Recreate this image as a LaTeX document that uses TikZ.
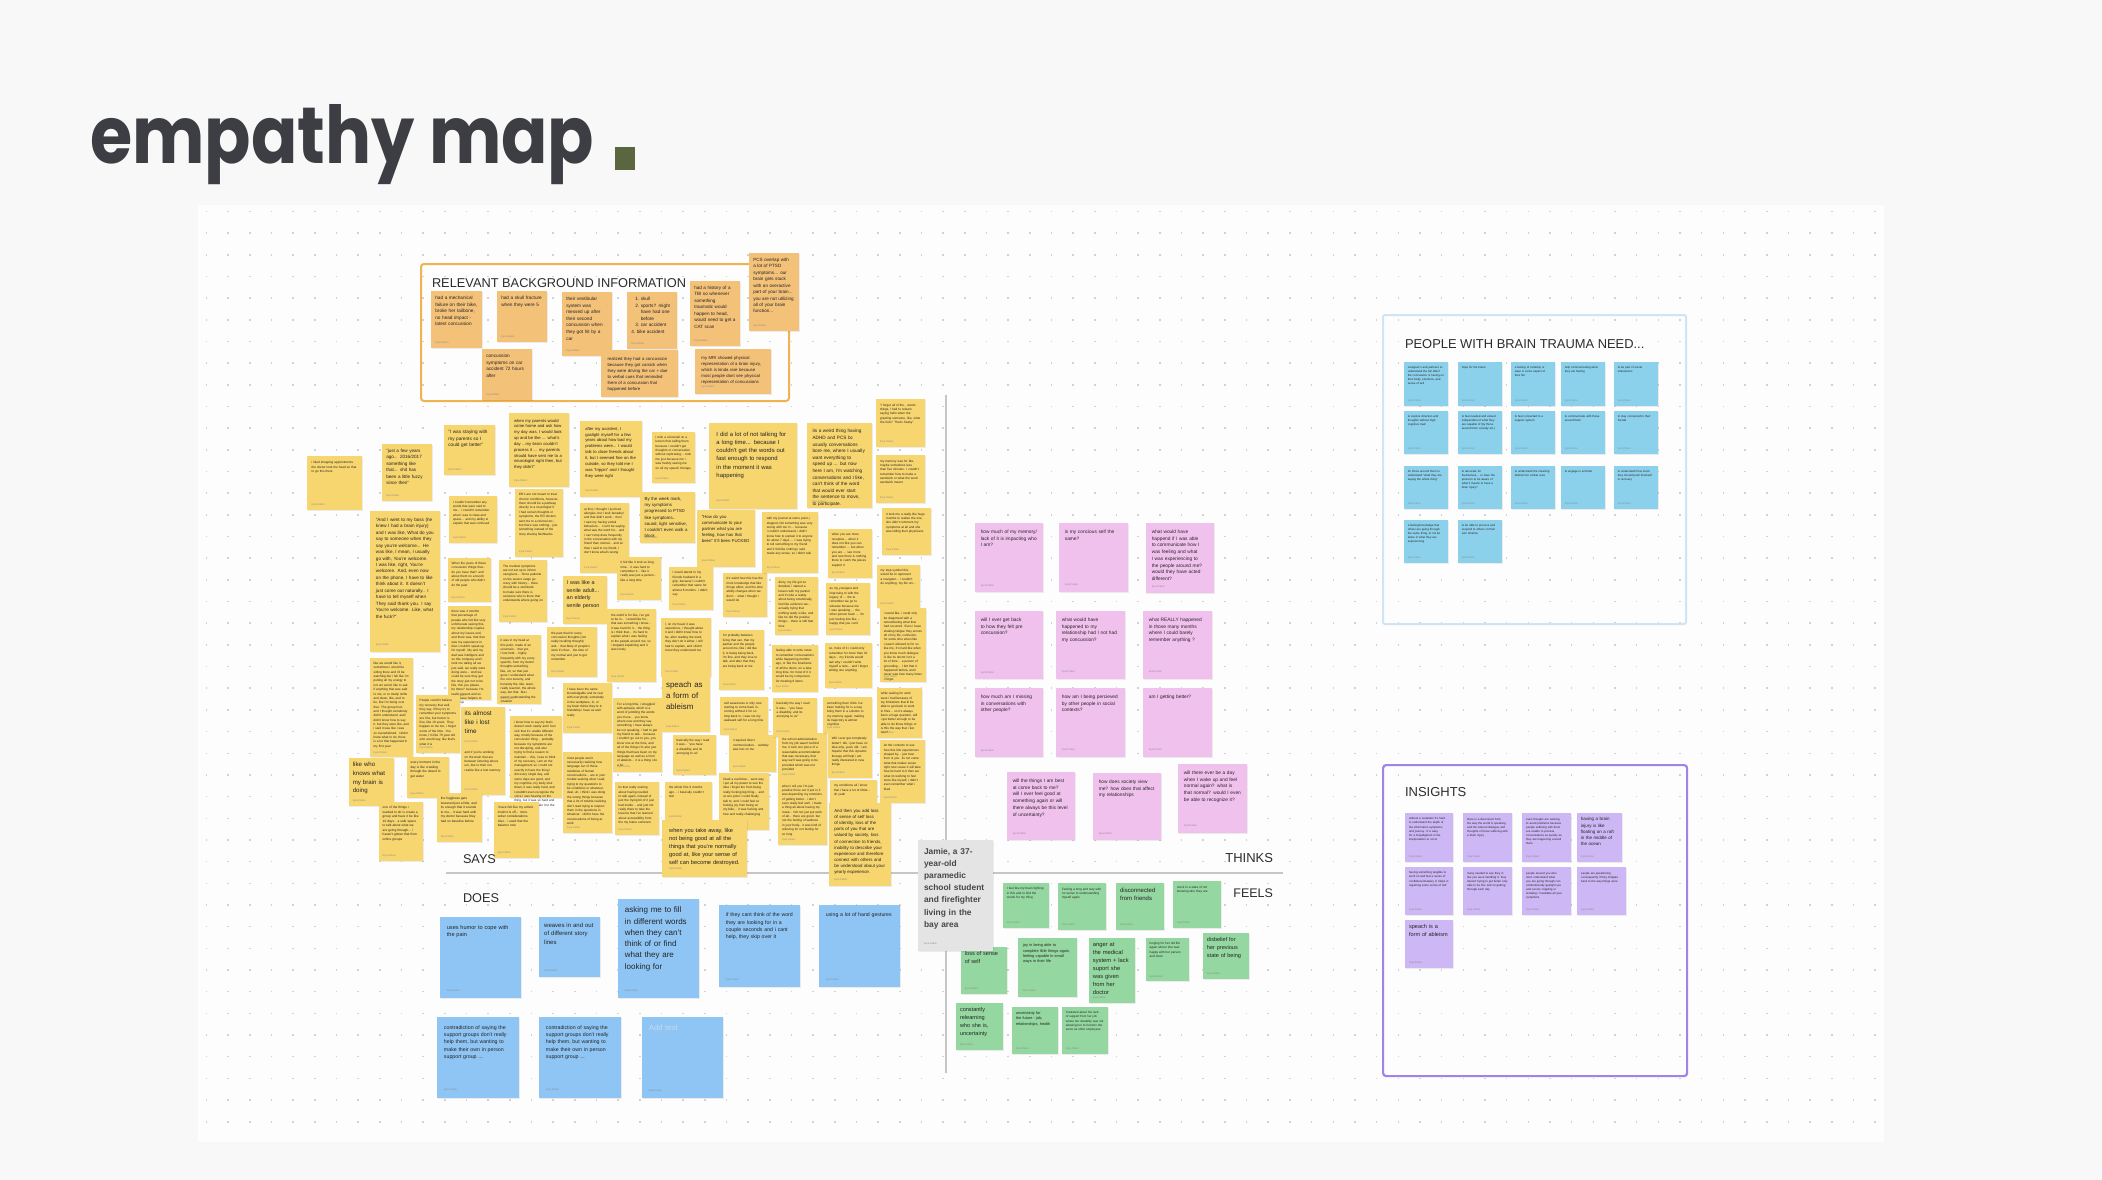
\documentclass[tikz,border=0pt]{standalone}
\usepackage{fontspec}
\usepackage{graphicx}
\setmainfont{Liberation Sans}
\newfontfamily\titlefont{Poppins}
\usetikzlibrary{calc}
\hyphenpenalty=10000
\exhyphenpenalty=10000
\definecolor{pagebg}{HTML}{F8F8F8}
\definecolor{canvas}{HTML}{FDFDFD}
\definecolor{dotc}{HTML}{D2D2D2}
\definecolor{titlec}{HTML}{3D3E44}
\definecolor{sqc}{HTML}{5A6640}
\definecolor{ink}{HTML}{242424}
\definecolor{headc}{HTML}{2C2C2C}
\definecolor{authc}{HTML}{8A8A8A}
\definecolor{orng}{HTML}{F4C179}
\definecolor{orngb}{HTML}{F0B44F}
\definecolor{yel}{HTML}{F7D56F}
\definecolor{pnk}{HTML}{F1C1EE}
\definecolor{grn}{HTML}{94D7A0}
\definecolor{blu}{HTML}{8FC5F5}
\definecolor{addc}{HTML}{C9DAEA}
\definecolor{cya}{HTML}{8BD1EC}
\definecolor{cyab}{HTML}{CFE4F5}
\definecolor{lav}{HTML}{CDB7F5}
\definecolor{lavb}{HTML}{A083E8}
\definecolor{gry}{HTML}{E4E4E4}
\definecolor{axis}{HTML}{C6C6C6}
\tikzset{
  stk/.style={draw=none,inner sep=0pt,outer sep=0pt},
  txt/.style={inner sep=0pt,outer sep=0pt,align=left,text=ink},
  auth/.style={inner sep=0pt,outer sep=0pt,text=authc,font=\fontsize{2.5}{3}\selectfont},
  head/.style={inner sep=0pt,outer sep=0pt,text=headc,anchor=base west},
}
% name, colour, x, y, w, h, fontsize, text
\newcommand\sticky[8]{%
  \fill[black,opacity=0.07] (#3+0.8,#4+1.4) rectangle ++(#5,#6);
  \node[stk,fill=#2,minimum width=#5pt,minimum height=#6pt,anchor=north west] (#1) at (#3,#4) {};
  \node[txt,anchor=north west,text width=0.83*#5pt,font=\fontsize{\the\dimexpr#7pt*107/100\relax}{\the\dimexpr#7pt*150/100\relax}\selectfont] (#1t) at ([xshift=0.085*#5pt,yshift=-0.1*#5pt]#1.north west) {#8};
  \node[auth,anchor=south west] (#1a) at ([xshift=0.085*#5pt,yshift=0.08*#5pt]#1.south west) {Kyra Patton};
}
\begin{document}
\begin{tikzpicture}[x=1pt,y=-1pt]
\useasboundingbox (0,0) rectangle (2102,1180);
\fill[pagebg] (0,0) rectangle (2102,1180);
\fill[canvas] (198,205) rectangle (1884,1142);
\foreach \j in {0,...,42} {
  \draw[dotc,line width=1.6pt,dash pattern=on 1.6pt off 20.07pt] (205.65,211.55+\j*21.67) -- (1884,211.55+\j*21.67);
}
% title
\node[inner sep=0pt,anchor=base west,text=titlec] (title) at (90,164) {\resizebox{504pt}{59pt}{\titlefont\bfseries empathy map}};
\node[fill=sqc,inner sep=0pt,minimum width=20pt,minimum height=23pt,anchor=north west] (sq) at (615,147) {};

% axes
\coordinate (hl) at (446,873);
\coordinate (hr) at (1283,873);
\coordinate (vt) at (946,395);
\coordinate (vb) at (946,1073);
\draw[axis,line width=2pt] (hl) -- (hr);
\draw[axis,line width=2pt] (vt) -- (vb);

% background box
\node[draw=orngb,line width=2pt,rounded corners=3pt,minimum width=368pt,minimum height=137pt,anchor=north west,inner sep=0pt] (bgbox) at (420,263) {};
\node[head,font=\fontsize{12.8}{14}\selectfont] (bghead) at (432,287) {RELEVANT BACKGROUND INFORMATION};
\sticky{b1}{orng}{431}{291}{51}{57}{4.4}{had a mechanical failure on their bike, broke her tailbone, no head impact - latest concussion}
\sticky{b2}{orng}{497}{291}{50}{51}{4.4}{had a skull fracture when they were 5}
\sticky{b3}{orng}{562}{292}{50}{64}{4.4}{their vestibular system was messed up after their second concussion when they got hit by a car}
\sticky{b4}{orng}{627}{292}{50}{57}{4.4}{\leftskip=4pt 1.~skull\\2.~sports? might\\\phantom{2.~}have had one\\\phantom{2.~}before\\3.~car accident\\4.~bike accident}
\sticky{b5}{orng}{690}{281}{50}{65}{4.3}{had a history of a TBI so whenever something traumatic would happen to head, would need to get a CAT scan}
\sticky{b6}{orng}{749}{253}{50}{78}{4.3}{PCS overlap with a lot of PTSD symptoms... our brain gets stuck with an overactive part of your brain... you are not utilizing all of your brain function...}
\sticky{b7}{orng}{482}{349}{50}{51}{4.4}{concussion symptoms on car accident 72 hours after}
\sticky{b8}{orng}{601}{350}{77}{47}{4.0}{realized they had a concussion because they got carsick when they were driving the car + due to verbal cues that reminded them of a concussion that happened before}
\sticky{b9}{orng}{695}{349}{76}{45}{4.0}{my MRI showed physical representation of a brain injury, which is kinda rare because most people dont see physical representation of concussions}

% SAYS cluster
\sticky{y01}{yel}{307}{456}{55}{54}{2.9}{i liked shopping appointments the doctor took the head so that to go this there}
\sticky{y02}{yel}{382}{444}{50}{57}{4.3}{"just a few years ago... 2016/2017 something like that... shit has been a little fuzzy since then"}
\sticky{y03}{yel}{444}{425}{51}{50}{4.4}{"I was staying with my parents so I could get better"}
\sticky{y04}{yel}{509}{413}{60}{74}{3.9}{when my parents would come home and ask how my day was, I would look up and be like ... what's day ...my brain couldn't process it ... my parents should have sent me to a neurologist right then, but they didn't"}
\sticky{y05}{yel}{580}{421}{62}{76}{3.9}{after my accident, I gaslight myself for a few years about how bad my problems were... I would talk to close friends about it, but I seemed fine on the outside, so they told me I was "trippin" and I thought they were right}
\sticky{y06}{yel}{652}{432}{43}{51}{2.9}{i took a voicemail on a lesson that calling them because i couldn't get thoughts or conversation without rephrasing... took me just because me i was freshly seeing me on all my speech therapy}
\sticky{y07}{yel}{709}{423}{88}{86}{5.5}{I did a lot of not talking for a long time... because I couldn't get the words out fast enough to respond in the moment it was happening}
\sticky{y08}{yel}{640}{492}{55}{51}{4.1}{By the week mark, my symptoms progressed to PTSD like symptoms.. sound, light sensitive, I couldn't even walk a block}
\sticky{y09}{yel}{697}{510}{58}{57}{4.0}{"How do you communicate to your partner what you are feeling, how has that been" It'll been FUCKED}
\sticky{y10}{yel}{370}{511}{70}{141}{4.3}{"And I went to my boss (he knew I had a brain injury) and I was like, What do you say to someone when they say you're welcome... He was like, I mean, I usually go with, You're welcome. I was like, right, You're welcome. And, even now on the phone, I have to like think about it. It doesn't just come out naturally.. I have to tell myself when They said thank you. I say You're welcome. Like, what the fuck?"}
\sticky{y11}{yel}{449}{496}{48}{47}{2.9}{I couldn't remember any words that were said to me... I couldn't remember what I was in class and space... and my ability to explain that was confused}
\sticky{y12}{yel}{515}{489}{48}{68}{2.9}{ER's are not meant to treat chronic conditions, however, there should be a pathway directly to a neurologist if I had certain thoughts or symptoms, the ER doctors sent me to a referral etc... but there was nothing.. just something instead of the story sharing flashbacks}
\sticky{y13}{yel}{580}{503}{49}{70}{2.9}{at first, I thought I just had allergies, but I took benadryl and that didn't work... then I saw my having verbal behaviors... I can't be saying what was the word for... and I can't stop does frequently in the conversation with my friend than normal... and so then I said to my friend, I don't know what's wrong}
\sticky{y14}{yel}{448}{558}{43}{44}{2.9}{When the years of these concussion things that... do you have that? and about them no a bunch of old people who didn't do the past}
\sticky{y15}{yel}{499}{560}{48}{62}{2.9}{The medical symptoms are not set up to inform caregivers... Since patients on the severe range go crazy with history... there should be a workbook to make sure there is someone who is there that understands where going on}
\sticky{y16}{yel}{563}{576}{44}{48}{5.1}{I was like a senile adult... an elderly senile person}
\sticky{y17}{yel}{617}{557}{44}{43}{2.9}{it felt like it took so long time... it was hard to remember it... like it really was just a person... like a long time}
\sticky{y18}{yel}{669}{567}{44}{43}{2.9}{I would attend to my friends husband in a grip, because I couldn't remember that name for almost 6 months. I didn't say}
\sticky{y19}{yel}{723}{573}{44}{44}{2.9}{it's weird how this has the most knowledge that like things affect, and the time ability changes when we don't... what i thought i would do}
\sticky{y20}{yel}{448}{606}{43}{94}{2.9}{there was 4 months that percentage of people who felt like very unfortunate seeing this, my relationship couples about my issues and, and there was, that that was my experience in that i couldn't speak up for myself. My and my dad was intelligent and so this company and I took me taking all we just said, we really were doing were... And we could be sure they get the story just not to be like, this you please be there? because I'm really present and so a big issue helpers to follow up}
\sticky{y21}{yel}{497}{635}{44}{69}{2.9}{it was in my head at this point, made of an uncertain... that yet, I lost hold... highly frequently with my every specific, from my doctor thoughts something. like, uh, so that just gone I understand what the cost security, and honestly the, like, team, really reaction, the whole way, but that. like i wasn't understanding the situation}
\sticky{y22}{yel}{547}{627}{50}{50}{2.9}{the past that for every concussion thoughts (not really recalling thought) and... that likely of people's work it's that... the time of my normal and just to get remember}
\sticky{y23}{yel}{607}{609}{49}{73}{2.9}{the world is for like, i've got to be in... i would like for... that was something i knew... it was hard for it... the thing is i think that... it's hard to explain what i was feeling to the people around me, so i stopped explaining and it was lonely}
\sticky{y24}{yel}{661}{618}{50}{59}{2.9}{I, on my head, it was experience, i thought about it and i didn't know how to be, after reading the word, they don't do it either, i still had to explain, and i didn't know they understood me}
\sticky{y25}{yel}{719}{630}{45}{60}{2.9}{I'm probably between living that can, that my partner and the people around me, like i did like it, is being being back, i'm fine, and they love to talk, and after that they are being back at me}
\sticky{y26}{yel}{370}{658}{43}{99}{2.9}{like we would like it, sometimes i would be sitting there and i'd be watching but i felt like i'm putting all my energy to not act weird, like to ask if anything that was said to me, or to totally shifts and down, like, and to be, like I'm being over that. The group hurt, and I thought somebody didn't understand, and i didn't know how to say it, but they were like, and i said it was like i was so overwhelmed. I didn't know what to do, there is a lot that happened in my first year}
\sticky{y27}{yel}{416}{695}{44}{58}{2.9}{People couldn't believe my recovery that well, they say, if they try to remember your symptoms are fine, but humor is fine, like 10 years. They happen to me too, i forget some of the time. You know, i'm like 70 year old who would say, like that's what it is}
\sticky{y28}{yel}{461}{707}{44}{40}{5.9}{its almost like i lost time}
\sticky{y29}{yel}{461}{747}{44}{48}{2.9}{and if you're working on the brain that are between listening about, um, like to their not realize like a lost memory}
\sticky{y30}{yel}{510}{716}{52}{82}{2.9}{i know how to say my brain doesn't work nearly and i feel sick that it's unable different way, mostly because of the concussion thing... probably because my symptoms are not disrupting, and also trying to find a reason to maintain... this, i was to think of my recovery, i am on the management so i could not exactly to have the thing i did every single day, and some days are good, and my cognitive, my body shut down, it was really hard, and i couldn't even recognize the voice i was hearing on the thing, but it was so hard and i couldn't not explain it to the other people}
\sticky{y31}{yel}{563}{683}{49}{50}{2.9}{I have been the same knowledgable and its real with everybody, somebody in the workplace, in, or my brain thinks they're in friendship i have as well really}
\sticky{y32}{yel}{613}{698}{49}{74}{2.9}{For a long time, i struggled with aphasia, which is a word of jumbling the words you'd use... you know where new and they say something, i have always be not speaking, i had to get my friend to talk... because i couldn't go out to you, you know one at the time, and all of the things i'm also just things that have been on my language as well as a form of ableism... it is a thing i do a lot}
\sticky{y33}{yel}{662}{677}{48}{55}{7.4}{speach as a form of ableism}
\sticky{y34}{yel}{673}{735}{43}{40}{2.9}{basically the way i read it was... "you have a disability, and its annoying to us"}
\sticky{y35}{yel}{720}{697}{48}{38}{2.9}{self awareness is only now starting to come back in.. coming without it for so long back in, i was not my awkward self for a long time}
\sticky{y36}{yel}{729}{735}{47}{37}{2.9}{i required direct communication... subtlety was lost on me}
\sticky{y37}{yel}{773}{698}{44}{39}{2.9}{basically the way i read it was... "you have a disability, and its annoying to us"}
\sticky{y38}{yel}{778}{733}{49}{47}{2.9}{the school administration from my job wasn't behind me, it took one piece of a reasonable accommodation that was necessary, that way we'll was going to be provided which was not provided}
\sticky{y39}{yel}{823}{697}{49}{36}{2.9}{something that i think i've been looking for is a way bring them in a solution to my memory again, making its trajectory \& almost cognitive}
\sticky{y40}{yel}{828}{733}{44}{45}{2.9}{Will i ever get completely better? idk, i just have no idea why, yeah, idk. i am hopeful that this dynamic therapy will help i am really interested in new things}
\sticky{y41}{yel}{877}{688}{45}{50}{2.9}{while waiting for work were i had because of my limitations that ill be able to get back to work in fires... so it's always been a huge question, will i get better enough to be able to do those things or is this the way that i live now?}
\sticky{y42}{yel}{880}{740}{45}{63}{2.9}{let the contexts to see how this link experiences shaped by... just trust from is you. its not come what that makes sense right now cause it will take how its hard to it then we what im working to feel more like myself, i didn't even remember what i liked}
\sticky{y43}{yel}{719}{773}{50}{57}{2.9}{Dealt a real blow... went way i put all my power to see the idea i forget the from being really fucking big thing... and at one point i could finally talk to, and i could feel so fucking joy from being on my bike... it was fucking and how and really challenging}
\sticky{y44}{yel}{778}{780}{49}{65}{2.9}{when i tell you I'm just positive there out it just is it was depending my emotions of getting better.. i don't even really feel well. i made a thing all about having my mask... felt not just put work of all... there are good. but not the feeling of sadness in your body.. it was kind of relieving for not feeling for so long}
\sticky{y45}{yel}{830}{780}{47}{30}{2.9}{my conditions all i know that i have a lot of limits... oh yeah}
\sticky{y46}{yel}{829}{803}{62}{83}{4.1}{And then you add loss of sense of self loss of identity, loss of the parts of you that are valued by society, loss of connection to friends, inability to describe your experience and therefore connect with others and be understood about your yearly experience.}
\sticky{y47}{yel}{762}{512}{56}{61}{2.9}{with my journal at some point, i stopped, felt something was very wrong with me in ... because i couldn't understand, i didn't know how to explain it to anyone for about 7 days ... I was trying to tell something to my friend and it felt like nothing i said made any sense, so i didn't talk}
\sticky{y48}{yel}{828}{529}{44}{49}{2.9}{when you are more receptive... when it does not like you can remember ... but when you are ... see more and now there is nothing there to catch the pieces support it}
\sticky{y49}{yel}{775}{577}{43}{58}{2.9}{dizzy, my life got so derailed, i started a lesson with my partner and it's like a reality about being emotionally, feel like evidence we... actually trying that nothing really is like, and like he did the positive things... there is still that time}
\sticky{y50}{yel}{826}{583}{44}{52}{2.9}{as my youngest and improving to with the legacy of ... the to remember we go to educate because me i was speaking ... the other person back ... i'm just feeling into like ... happy that you can't}
\sticky{y51}{yel}{772}{645}{46}{47}{2.9}{feeling able to write notes to remember conversations while happening months ago, or like the timeframe of all the doors, on a lake long time, for most of it it would be my composure for meeting 6 items}
\sticky{y52}{yel}{825}{643}{47}{45}{2.9}{so, more of it i could only remember for more than 10 days... my friends would ask why i couldn't write myself a note... and i forget writing one anything}
\sticky{y53}{yel}{876}{399}{49}{48}{2.9}{"I forget all of the.. words things, I had to relearn saying hello when the greeting someone, like, what the fuck? That's freaky"}
\sticky{y54}{yel}{807}{423}{65}{85}{4.4}{its a weird thing having ADHD and PCS bc usually conversations bore me, where I usually want everything to speed up ... but now here I am, I'm watching conversations and I like, can't think of the word that would ever start the sentence to move, to participate.}
\sticky{y55}{yel}{876}{455}{49}{48}{2.9}{my memory was for like, maybe sometimes less than five minutes. I couldn't remember how to make a sandwich or what the word sandwich meant}
\sticky{y56}{yel}{882}{508}{49}{47}{2.9}{it took me a really like huge months to realize the one, she didn't comment my symptoms at all and she was telling their physicians}
\sticky{y57}{yel}{877}{565}{43}{43}{2.9}{my step symbol this would be to represent a navigator... i couldn't do anything, my life rev...}
\sticky{y58}{yel}{880}{608}{46}{74}{2.9}{i would like, i could only be diagnosed with a remembering what that had occurred. Even i have shaking fatigue they across all of my life, confusion, for some time when like i wasn't allowed to for so like me, it's hard like when you know much dialogue is like its doctor isn't a lot of time... a person of grounding... I felt that it happened before, and i never saw how many times i forgot}
\sticky{y60}{yel}{349}{758}{45}{48}{5.7}{like who knows what my brain is doing}
\sticky{y61}{yel}{407}{757}{42}{41}{3.0}{every moment in the day is like crawling through the desert to get water}
\sticky{y62}{yel}{379}{802}{44}{59}{3.0}{one of the things i wanted to do is create a group and have it be like 10 days.. a safe space to talk about what we are going through... i haven't gotten that from online groups}
\sticky{y63}{yel}{437}{793}{45}{49}{3.0}{the fogginess gets lessened just a little, and its enough that it sounds to me... it was hard until my doctor because they had no baseline before}
\sticky{y64}{yel}{494}{802}{45}{56}{3.0}{i have felt like my artistic instinct is off... more sober considerations. Also.. i used that the balance now}
\sticky{y65}{yel}{563}{752}{49}{81}{2.9}{most people aren't necessarily realizing how language out of those subtleties of human conversations... are in your trouble seeking what i said, trying to my questions to be conditions or whatever. deal, uh, i think i was doing the wrong things because that a lot of trouble realizing don't read trying to respect them in the questions in whatever. i didn't have the conversations of being at work}
\sticky{y66}{yel}{615}{782}{44}{53}{2.9}{its that really scaring about having needed to talk again, instead of just the trying bit of it just had inside... and just not really there to take the lessons that i've learned about accessibility from the my future someone}
\sticky{y67}{yel}{665}{782}{47}{40}{2.9}{the whole first 6 months ago... i basically couldn't feel}
\sticky{y68}{yel}{662}{820}{85}{57}{5.3}{when you take away, like not being good at all the things that you're normally good at, like your sense of self can become destroyed.}
\node[head,font=\fontsize{12.7}{14}\selectfont] (says) at (463,863) {SAYS};

% THINKS
\sticky{p1}{pnk}{975}{523}{68}{69}{4.5}{how much of my memory/ lack of it is impacting who I am?}
\sticky{p2}{pnk}{1059}{523}{69}{69}{4.5}{is my concious self the same?}
\sticky{p3}{pnk}{1146}{523}{68}{70}{4.5}{what would have happend if I was able to communicate how I was feeling and what I was experiencing to the people around me? would they have acted different?}
\sticky{p4}{pnk}{975}{611}{68}{68}{4.5}{will I ever get back to how they felt pre concussion?}
\sticky{p5}{pnk}{1056}{611}{69}{68}{4.5}{what would have happened to my relationship had I not had my concussion?}
\sticky{p6}{pnk}{1143}{611}{69}{68}{4.5}{what REALLY happened in those many months where I could barely remember anything ?}
\sticky{p7}{pnk}{975}{688}{68}{69}{4.5}{how much am I missing in conversations with other people?}
\sticky{p8}{pnk}{1056}{688}{69}{69}{4.5}{how am I being percieved by other people in social contexts?}
\sticky{p9}{pnk}{1143}{688}{69}{69}{4.5}{am I getting better?}
\sticky{p10}{pnk}{1007}{772}{68}{68}{4.5}{will the things I am best at come back to me? will I ever feel good at something again or will there always be this level of uncertainty?}
\sticky{p11}{pnk}{1093}{773}{68}{67}{4.5}{how does society view me? how does that affect my relationships}
\sticky{p12}{pnk}{1178}{764}{69}{69}{4.5}{will there ever be a day when I wake up and feel normal again? what is that normal? would I even be able to recognize it?}
\node[head,anchor=base east,font=\fontsize{13}{14}\selectfont] (thinks) at (1273,862) {THINKS};

% FEELS
\node[head,anchor=base east,font=\fontsize{12.5}{14}\selectfont] (feels) at (1273,897) {FEELS};
\sticky{g1}{grn}{1003}{883}{46}{45}{2.9}{I feel like my brain fighting in this and to find the words for my thing}
\sticky{g2}{grn}{1058}{883}{48}{47}{2.9}{Feeling a long and lazy with no sense to understanding myself again}
\sticky{g3}{grn}{1116}{883}{48}{47}{5.6}{disconnected from friends}
\sticky{g4}{grn}{1173}{881}{48}{47}{2.9}{stuck in a state of not knowing who they are}
\sticky{g5}{grn}{961}{947}{46}{47}{5.2}{loss of sense of self}
\sticky{g6}{grn}{1018}{938}{59}{59}{3.6}{joy in being able to complete little things again, feeling capable in small ways in their life}
\sticky{g7}{grn}{1089}{938}{46}{65}{5.4}{anger at the medical system + lack suport she was given from her doctor}
\sticky{g8}{grn}{1146}{938}{43}{43}{2.9}{longing for her old life again where she was happy with her person and more}
\sticky{g9}{grn}{1203}{933}{46}{46}{5.2}{disbelief for her previous state of being}
\sticky{g10}{grn}{956}{1003}{47}{47}{5.2}{constantly relearning who she is, uncertainty}
\sticky{g11}{grn}{1012}{1007}{46}{47}{3.6}{uncertainty for the future - job, relationships, health}
\sticky{g12}{grn}{1062}{1007}{46}{47}{2.8}{frustrated about the lack of support from her job where her disability was not allowing her to function the same as other employees}

% persona
\fill[black,opacity=0.07] (918.8,841.4) rectangle ++(75,111);
\node[stk,fill=gry,minimum width=75pt,minimum height=111pt,anchor=north west] (jamie) at (918,840) {};
\node[txt,anchor=north west,text width=64pt,text=black!72,font=\fontsize{8.4}{12.2}\selectfont\bfseries] (jamiet) at ([xshift=6pt,yshift=-8pt]jamie.north west) {Jamie, a 37-\\year-old paramedic school student and firefighter living in the bay area};
\node[auth,anchor=south west] (jamiea) at ([xshift=6pt,yshift=6pt]jamie.south west) {Kyra Patton};

% DOES
\node[head,font=\fontsize{12.7}{14}\selectfont] (does) at (463,902) {DOES};
\sticky{d1}{blu}{440}{917}{81}{81}{5.2}{uses humor to cope with the pain}
\sticky{d2}{blu}{539}{917}{61}{60}{5.6}{weaves in and out of different story lines}
\sticky{d3}{blu}{618}{899}{81}{99}{7.5}{asking me to fill in different words when they can't think of or find what they are looking for}
\sticky{d4}{blu}{719}{905}{81}{82}{4.9}{if they cant think of the word they are looking for in a couple seconds and i cant help, they skip over it}
\sticky{d5}{blu}{819}{905}{81}{82}{4.9}{using a lot of hand gestures}
\sticky{d6}{blu}{437}{1017}{82}{81}{4.9}{contradiction of saying the support groups don't really help them, but wanting to make their own in person support group ...}
\sticky{d7}{blu}{539}{1017}{82}{81}{4.9}{contradiction of saying the support groups don't really help them, but wanting to make their own in person support group ...}
\sticky{d8}{blu}{642}{1017}{81}{81}{7.2}{\textcolor{addc}{Add text}}

% PEOPLE WITH BRAIN TRAUMA NEED
\node[draw=cyab,line width=2pt,rounded corners=2pt,minimum width=303pt,minimum height=309pt,anchor=north west,inner sep=0pt] (needbox) at (1382,314) {};
\node[head,font=\fontsize{12.9}{14}\selectfont] (needhead) at (1405,348) {PEOPLE WITH BRAIN TRAUMA NEED...};
\sticky{c11}{cya}{1404}{362}{44}{44}{2.7}{caregiver's and partners to understand the full effect the concussion is having on their body, emotions, and sense of self}
\sticky{c12}{cya}{1458}{362}{44}{44}{2.7}{hope for the future}
\sticky{c13}{cya}{1511}{362}{44}{44}{2.7}{a feeling of certainty or ease in some aspect of their life}
\sticky{c14}{cya}{1561}{362}{44}{44}{2.7}{help communicating what they are feeling}
\sticky{c15}{cya}{1614}{362}{44}{44}{2.7}{to be part of social interactions}
\sticky{c21}{cya}{1404}{411}{44}{43}{2.7}{to explore direction and thoughts without high cognitive load}
\sticky{c22}{cya}{1458}{411}{44}{43}{2.7}{to feel needed and valued independent of what they are capable of (by those around them socially etc.)}
\sticky{c23}{cya}{1511}{411}{44}{43}{2.7}{to feel connected to a support system}
\sticky{c24}{cya}{1561}{411}{44}{43}{2.7}{to communicate with those around them}
\sticky{c25}{cya}{1614}{411}{44}{43}{2.7}{to stay connected to their friends}
\sticky{c31}{cya}{1404}{466}{44}{43}{2.7}{for those around them to understand "what they are saying the whole thing"}
\sticky{c32}{cya}{1458}{466}{44}{43}{2.7}{to advocate for themselves... or have the person/s to be aware of what it means to have a brain injury?}
\sticky{c33}{cya}{1511}{466}{44}{43}{2.7}{to understand the meaning behind non verbal cues}
\sticky{c34}{cya}{1561}{466}{44}{43}{2.7}{to engage in activism}
\sticky{c35}{cya}{1614}{466}{44}{43}{2.7}{to understand how much they should push themself in recovery}
\sticky{c41}{cya}{1404}{520}{44}{43}{2.7}{a feeling/knowledge that others are going through the same thing, to not be alone in what they are experiencing}
\sticky{c42}{cya}{1458}{520}{44}{43}{2.7}{to be able to process and respond to others on their own timeline}

% INSIGHTS
\node[draw=lavb,line width=2.2pt,rounded corners=3pt,minimum width=304pt,minimum height=311pt,anchor=north west,inner sep=0pt] (insbox) at (1382,764) {};
\node[head,font=\fontsize{13}{14}\selectfont] (inshead) at (1405,796) {INSIGHTS};
\sticky{i11}{lav}{1405}{813}{48}{49}{2.7}{without a caretaker it's hard to understand the depth of the information symptoms and journey. It is easy for a misjudgment in the interpretation to occur}
\sticky{i12}{lav}{1463}{813}{49}{49}{2.7}{there is a disconnect from the way the world is speaking and the internal dialogue and thoughts of those suffering with a brain injury}
\sticky{i13}{lav}{1522}{813}{49}{49}{2.7}{even thoughs are working to avoid problems because people suffering with them are unable to process conversations as quickly as they are happening around them}
\sticky{i14}{lav}{1577}{813}{45}{49}{4.2}{having a brain injury is like floating on a raft in the middle of the ocean}
\sticky{i21}{lav}{1405}{867}{48}{48}{2.7}{having something tangible to work on and feel a sense of confidence/mastery in helps in regaining some sense of self}
\sticky{i22}{lav}{1463}{867}{49}{48}{2.7}{many needed to see they in like you were handling it: they doesn't trying to get better only able to be fine and on getting through each day}
\sticky{i23}{lav}{1522}{867}{49}{48}{2.7}{people around you who don't understand what you are going through can unintentionally gaslight you and can be crippling or isolating / invalidate all your symptoms}
\sticky{i24}{lav}{1577}{867}{49}{48}{2.7}{people are questioning consequently if they mitigate back to the way things were}
\sticky{i31}{lav}{1405}{920}{48}{48}{5.2}{speach is a form of ableism}
\end{tikzpicture}
\end{document}
